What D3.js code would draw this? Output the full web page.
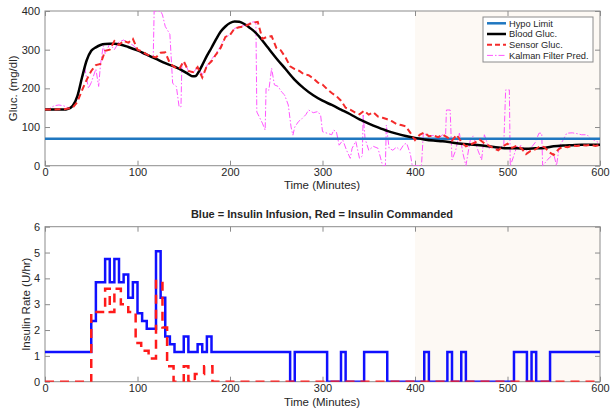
<!DOCTYPE html>
<html>
<head>
<meta charset="utf-8">
<script src="https://cdn.jsdelivr.net/npm/d3@7"></script>
<style>
  body { margin: 0; background: #fff; }
  svg text { font-family: "Liberation Sans", Arial, sans-serif; fill: #262626; }
</style>
</head>
<body>
<div id="chart"></div>
<script>

// ---- data ----
var hypoLimit = 70

var bloodGluc = [[0,145],[20,145],[25,147],[30,155],[35,180],[40,228],[45,272],[50,297],[55,306],[60,312],[65,314.5],[70,315],[75,315],[80,314],[90,307],[100,298],[110,287],[120,276],[130,265],[140,256],[150,244],[155,237],[160,231],[163,232],[165,238],[170,260],[175,284],[180,305],[185,327],[190,347],[195,360],[200,369],[205,373],[210,372],[215,367],[220,359],[225,350],[230,338],[240,308],[250,278],[260,250],[270,222],[280,200],[290,182],[300,168],[310,157],[320,145],[330,133],[340,120],[350,109],[360,99],[370,90],[380,83],[390,77],[400,72],[410,68],[420,65],[430,63],[440,60],[450,57],[460,55],[470,53],[480,50],[490,47],[500,45],[510,45],[520,44],[530,45],[540,46],[550,50],[560,52],[570,53],[580,54],[590,54],[600,54]]

var sensorGluc = [[0,145],[5,145],[10,145],[15,146],[20,146],[25,148],[30,150],[35,165],[40,195],[45,222],[50,245],[55,260],[60,263],[65,297],[70,300],[75,322],[80,312],[85,323],[90,318],[95,328],[100,300],[105,295],[110,288],[115,283],[120,280],[125,292],[130,293],[135,265],[140,255],[145,250],[150,270],[155,245],[160,242],[165,255],[170,228],[175,258],[180,270],[185,288],[190,305],[195,333],[200,338],[205,355],[210,358],[215,360],[220,365],[225,370],[230,372],[235,328],[240,333],[245,335],[250,305],[255,298],[260,280],[265,257],[270,250],[275,245],[280,236],[285,234],[290,226],[295,215],[300,210],[305,198],[310,188],[315,180],[320,168],[325,150],[330,145],[335,138],[340,133],[345,142],[350,132],[355,138],[360,127],[365,124],[370,120],[375,115],[380,108],[385,105],[390,102],[395,85],[400,66],[405,80],[410,86],[415,76],[420,78],[425,74],[430,80],[435,73],[440,65],[445,80],[450,62],[455,50],[460,55],[465,60],[470,67],[475,58],[480,52],[485,45],[490,40],[495,50],[500,57],[505,46],[510,52],[515,45],[520,30],[525,38],[530,42],[535,50],[540,48],[545,35],[550,28],[555,42],[560,50],[565,48],[570,52],[575,51],[580,53],[585,52],[590,54],[595,51],[600,54]]

var kalmanPred = [[0,145],[5,148],[10,155],[15,157],[20,155],[25,150],[30,152],[35,175],[40,225],[43,252],[47,200],[50,215],[55,250],[58,205],[60,262],[63,310],[65,290],[70,315],[75,300],[80,320],[85,325],[90,318],[95,312],[100,300],[105,290],[110,285],[115,280],[117,280],[118,400],[125,400],[127,390],[130,360],[135,340],[138,213],[142,205],[145,152],[147,152],[148,265],[152,262],[155,245],[160,240],[165,255],[170,235],[175,258],[180,275],[185,290],[190,310],[195,333],[200,338],[205,355],[210,360],[215,362],[220,368],[225,372],[228,370],[229,139],[235,110],[238,92],[239,200],[242,195],[245,252],[248,209],[252,205],[256,190],[259,183],[263,157],[266,100],[268,79],[270,100],[274,114],[278,122],[282,132],[285,144],[290,137],[295,140],[298,130],[300,88],[305,84],[310,80],[312,92],[315,88],[318,53],[322,66],[326,40],[330,19],[332,45],[336,63],[340,19],[343,25],[344,131],[346,70],[350,40],[355,50],[360,45],[365,0],[368,0],[369,105],[372,45],[376,40],[380,48],[384,40],[388,55],[391,58],[395,30],[397,0],[407,0],[409,84],[415,77],[420,78],[425,70],[430,80],[433,75],[434,144],[438,144],[440,15],[444,40],[448,84],[452,30],[455,0],[460,70],[463,77],[468,40],[472,15],[475,80],[480,45],[485,50],[490,42],[496,55],[498,196],[502,196],[503,0],[506,20],[510,49],[515,52],[520,40],[525,45],[530,60],[534,84],[537,84],[538,0],[545,20],[550,30],[553,0],[556,50],[560,66],[564,84],[570,85],[575,83],[580,80],[586,80],[590,70],[595,65],[600,57]]

// stairs: value holds from t until next t
var insulinInfusion = [[0,1.15],[50,2.35],[55,3.85],[65,4.75],[70,3.85],[75,4.75],[80,3.85],[85,4.15],[90,3.25],[95,3.85],[100,2.65],[105,2.35],[110,2.05],[120,5.05],[125,3.25],[130,1.75],[135,1.45],[140,1.15],[150,1.75],[155,1.15],[165,1.45],[170,1.15],[175,1.75],[180,1.15],[265,0],[270,1.15],[305,0],[320,1.15],[325,0],[345,1.15],[370,0],[410,1.15],[415,0],[435,1.15],[440,0],[450,1.15],[455,0],[507,1.15],[521,0],[526,1.15],[531,0],[546,1.15],[600,1.15]]

var insulinCommanded = [[0,0],[50,2.7],[65,3.6],[70,2.7],[75,3.6],[82,3.0],[90,2.7],[98,1.5],[104,1.2],[112,0.9],[120,3.9],[127,2.1],[132,0.6],[139,0],[150,0.6],[155,0],[162,0.3],[172,0.6],[181,0],[600,0]]

var shadeRange = [400, 600]
var timeTicks = [0, 100, 200, 300, 400, 500, 600]
var glucTicks = [0, 100, 200, 300, 400]
var rateTicks = [0, 1, 2, 3, 4, 5, 6]
var legendLabels = ['Hypo Limit', 'Blood Gluc.', 'Sensor Gluc.', 'Kalman Filter Pred.']

// ---- layout ----
var fullWidth = 610, fullHeight = 412
var svg = d3.select('#chart').append('svg')
    .attr('width', fullWidth)
    .attr('height', fullHeight)

var x = d3.scaleLinear().domain([0, 600]).range([45, 600])
var yTop = d3.scaleLinear().domain([0, 400]).range([165.7, 11])
var yBot = d3.scaleLinear().domain([0, 6]).range([381.7, 226.7])

var frameColor = '#8c8c8c'

function panel(y, yTicks, clipId) {
    var g = svg.append('g')

    g.append('clipPath').attr('id', clipId)
        .append('rect')
        .attr('x', x(0)).attr('y', y.range()[1])
        .attr('width', x(600) - x(0)).attr('height', y.range()[0] - y.range()[1])

    // tinted region
    g.append('rect')
        .attr('x', x(shadeRange[0]))
        .attr('y', y.range()[1])
        .attr('width', x(shadeRange[1]) - x(shadeRange[0]))
        .attr('height', y.range()[0] - y.range()[1])
        .attr('fill', '#fdf9f4')

    var styleAxis = function (sel) {
        sel.select('.domain').remove()
        sel.selectAll('line').attr('stroke', frameColor)
        sel.selectAll('text').attr('font-size', 11).style('fill', '#262626')
    }

    g.append('g').attr('transform', 'translate(0,' + y.range()[0] + ')')
        .call(d3.axisBottom(x).tickValues(timeTicks).tickSize(-5).tickPadding(3).tickFormat(d3.format('d')))
        .call(styleAxis)
    g.append('g').attr('transform', 'translate(0,' + y.range()[1] + ')')
        .call(d3.axisTop(x).tickValues(timeTicks).tickSize(-5).tickFormat(''))
        .call(styleAxis)
    g.append('g').attr('transform', 'translate(' + x(0) + ',0)')
        .call(d3.axisLeft(y).tickValues(yTicks).tickSize(-5).tickPadding(5).tickFormat(d3.format('d')))
        .call(styleAxis)
    g.append('g').attr('transform', 'translate(' + x(600) + ',0)')
        .call(d3.axisRight(y).tickValues(yTicks).tickSize(-5).tickFormat(''))
        .call(styleAxis)

    g.append('rect')
        .attr('x', x(0)).attr('y', y.range()[1])
        .attr('width', x(600) - x(0)).attr('height', y.range()[0] - y.range()[1])
        .attr('fill', 'none')
        .attr('stroke', frameColor)
        .attr('stroke-width', 1)

    return g
}

// ---- top panel: glucose ----
var topPanel = panel(yTop, glucTicks, 'clipTop')
var plotTop = topPanel.append('g').attr('clip-path', 'url(#clipTop)')

var line = d3.line().x(d => x(d[0])).y(d => yTop(d[1]))

plotTop.append('path')
    .datum(kalmanPred)
    .attr('fill', 'none')
    .attr('stroke', '#ff55ff')
    .attr('stroke-width', 1)
    .attr('stroke-dasharray', '6,2,1.5,2')
    .attr('d', line)

plotTop.append('line')
    .attr('x1', x(0)).attr('x2', x(600))
    .attr('y1', yTop(hypoLimit)).attr('y2', yTop(hypoLimit))
    .attr('stroke', '#1f77c0')
    .attr('stroke-width', 2.5)

plotTop.append('path')
    .datum(bloodGluc)
    .attr('fill', 'none')
    .attr('stroke', '#000')
    .attr('stroke-width', 2.5)
    .attr('d', d3.line().x(d => x(d[0])).y(d => yTop(d[1])).curve(d3.curveMonotoneX))

plotTop.append('path')
    .datum(sensorGluc)
    .attr('fill', 'none')
    .attr('stroke', '#f42b2b')
    .attr('stroke-width', 2)
    .attr('stroke-dasharray', '6,3.5')
    .attr('d', line)

topPanel.append('text')
    .attr('x', 322).attr('y', 189)
    .attr('text-anchor', 'middle')
    .attr('font-size', 11.5)
    .text('Time (Minutes)')

topPanel.append('text')
    .attr('transform', 'translate(17,' + yTop(200) + ') rotate(-90)')
    .attr('text-anchor', 'middle')
    .attr('font-size', 11.5)
    .text('Gluc. (mg/dl)')

// legend
var legend = topPanel.append('g').attr('transform', 'translate(483,17)')
legend.append('rect')
    .attr('width', 110).attr('height', 45)
    .attr('fill', '#fff')
    .attr('stroke', '#8c8c8c')

var legendStyles = [
    { stroke: '#1f77c0', width: 2.5, dash: null },
    { stroke: '#000', width: 2.5, dash: null },
    { stroke: '#f42b2b', width: 2, dash: '5,3' },
    { stroke: '#ff55ff', width: 1, dash: '6,2,1.5,2' }
]

legend.selectAll('g.item')
    .data(legendLabels)
    .enter()
    .append('g')
    .attr('class', 'item')
    .attr('transform', (d, i) => 'translate(0,' + (6.3 + i * 10.7) + ')')
    .each(function (d, i) {
        var s = legendStyles[i]
        d3.select(this).append('line')
            .attr('x1', 4).attr('x2', 23)
            .attr('stroke', s.stroke)
            .attr('stroke-width', s.width)
            .attr('stroke-dasharray', s.dash)
        d3.select(this).append('text')
            .attr('x', 26).attr('dy', '0.35em')
            .attr('font-size', 9.3)
            .text(d)
    })

// ---- bottom panel: insulin ----
var botPanel = panel(yBot, rateTicks, 'clipBot')
var plotBot = botPanel.append('g').attr('clip-path', 'url(#clipBot)')

var stairs = d3.line().x(d => x(d[0])).y(d => yBot(d[1])).curve(d3.curveStepAfter)

plotBot.append('path')
    .datum(insulinInfusion)
    .attr('fill', 'none')
    .attr('stroke', '#1010ff')
    .attr('stroke-width', 2.5)
    .attr('d', stairs)

plotBot.append('path')
    .datum(insulinCommanded)
    .attr('fill', 'none')
    .attr('stroke', '#ff1a1a')
    .attr('stroke-width', 2.5)
    .attr('stroke-dasharray', '9,6')
    .attr('d', stairs)

botPanel.append('text')
    .attr('x', 322).attr('y', 214)
    .attr('dy', '0.35em')
    .attr('text-anchor', 'middle')
    .attr('font-size', 11)
    .attr('font-weight', 'bold')
    .text('Blue = Insulin Infusion, Red = Insulin Commanded')

botPanel.append('text')
    .attr('x', 322).attr('y', 406)
    .attr('text-anchor', 'middle')
    .attr('font-size', 11.5)
    .text('Time (Minutes)')

botPanel.append('text')
    .attr('transform', 'translate(30,' + yBot(3) + ') rotate(-90)')
    .attr('text-anchor', 'middle')
    .attr('font-size', 11.5)
    .text('Insulin Rate (U/hr)')

</script>
</body>
</html>
